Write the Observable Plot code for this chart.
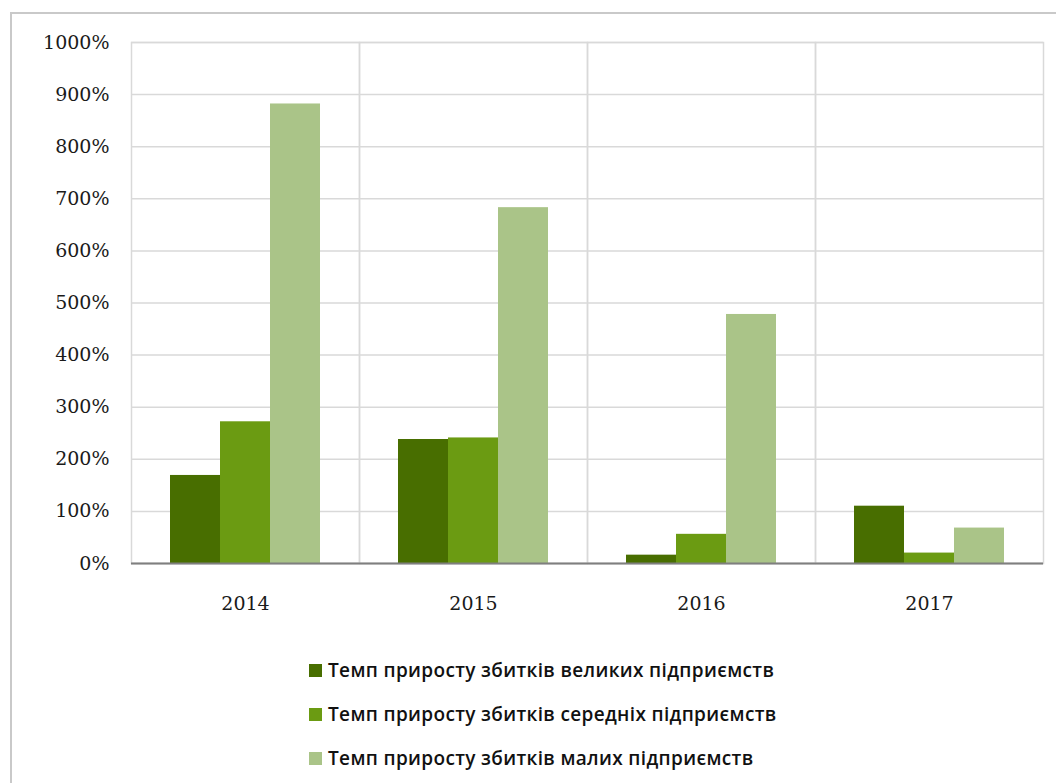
<!DOCTYPE html>
<html>
<head>
<meta charset="utf-8">
<script src="https://cdn.jsdelivr.net/npm/d3@7"></script>
<script src="https://cdn.jsdelivr.net/npm/@observablehq/plot@0.6"></script>
<style>
  html, body { margin: 0; padding: 0; background: #fff; }
  #wrap { position: relative; width: 1056px; height: 783px; overflow: hidden; }
  #border { position: absolute; left: 10px; top: 12px; width: 1060px; height: 800px;
            border-top: 2px solid #c9c9c9; border-left: 2px solid #c9c9c9; box-sizing: border-box; }
  #chart { position: absolute; left: 0; top: 0; }
  #legend { position: absolute; left: 309px; top: 648px; font-family: "Open Sans", sans-serif;
            font-size: 19px; font-weight: 600; letter-spacing: 0.35px; color: #111; }
  .row { display: flex; align-items: center; height: 44px; white-space: nowrap; }
  .sw { width: 13px; height: 13px; margin-right: 6px; }
</style>
</head>
<body>
<div id="wrap">
  <div id="border"></div>
  <div id="chart"></div>
  <div id="legend"></div>
</div>
<script>
const years = ["2014", "2015", "2016", "2017"];
const seriesNames = [
  "Темп приросту збитків великих підприємств",
  "Темп приросту збитків середніх підприємств",
  "Темп приросту збитків малих підприємств"
];
const large = [169, 238, 16, 110];
const medium = [272, 241, 56, 20];
const small = [882, 683, 478, 68];
const colors = ["#486e00", "#6b9b12", "#aac488"];
const yTicks = [0, 100, 200, 300, 400, 500, 600, 700, 800, 900, 1000];

const values = [large, medium, small];
const data = [];
years.forEach((yr, i) => {
  seriesNames.forEach((s, j) => data.push({year: yr, series: s, value: values[j][i]}));
});

const plot = Plot.plot({
  width: 1056,
  height: 625,
  marginLeft: 130,
  marginRight: 13,
  marginTop: 42,
  marginBottom: 62,
  style: {fontFamily: "DejaVu Serif, serif", fontSize: "19px", color: "#1a1a1a", background: "transparent"},
  fx: {domain: years, padding: 0, label: null, tickSize: 0, tickPadding: 33, axis: "bottom"},
  x: {domain: seriesNames, paddingInner: 0, paddingOuter: 0.76, axis: null},
  y: {domain: [0, 1000], ticks: yTicks, tickFormat: d => d + "%", tickSize: 0, tickPadding: 22, label: null, grid: false},
  color: {domain: seriesNames, range: colors},
  marks: [
    Plot.gridY(yTicks, {stroke: "#d9d9d9", strokeOpacity: 1, strokeWidth: 1.5}),
    Plot.frame({stroke: "#d9d9d9", strokeWidth: 1.5}),
    Plot.barY(data, {fx: "year", x: "series", y: "value", fill: "series"}),
    Plot.ruleY([0], {stroke: "#7f7f7f", strokeWidth: 2})
  ]
});
document.getElementById("chart").appendChild(plot);

const legend = document.getElementById("legend");
seriesNames.forEach((s, j) => {
  const row = document.createElement("div");
  row.className = "row";
  const sw = document.createElement("div");
  sw.className = "sw";
  sw.style.background = colors[j];
  const t = document.createElement("span");
  t.textContent = s;
  row.appendChild(sw);
  row.appendChild(t);
  legend.appendChild(row);
});
</script>
</body>
</html>
